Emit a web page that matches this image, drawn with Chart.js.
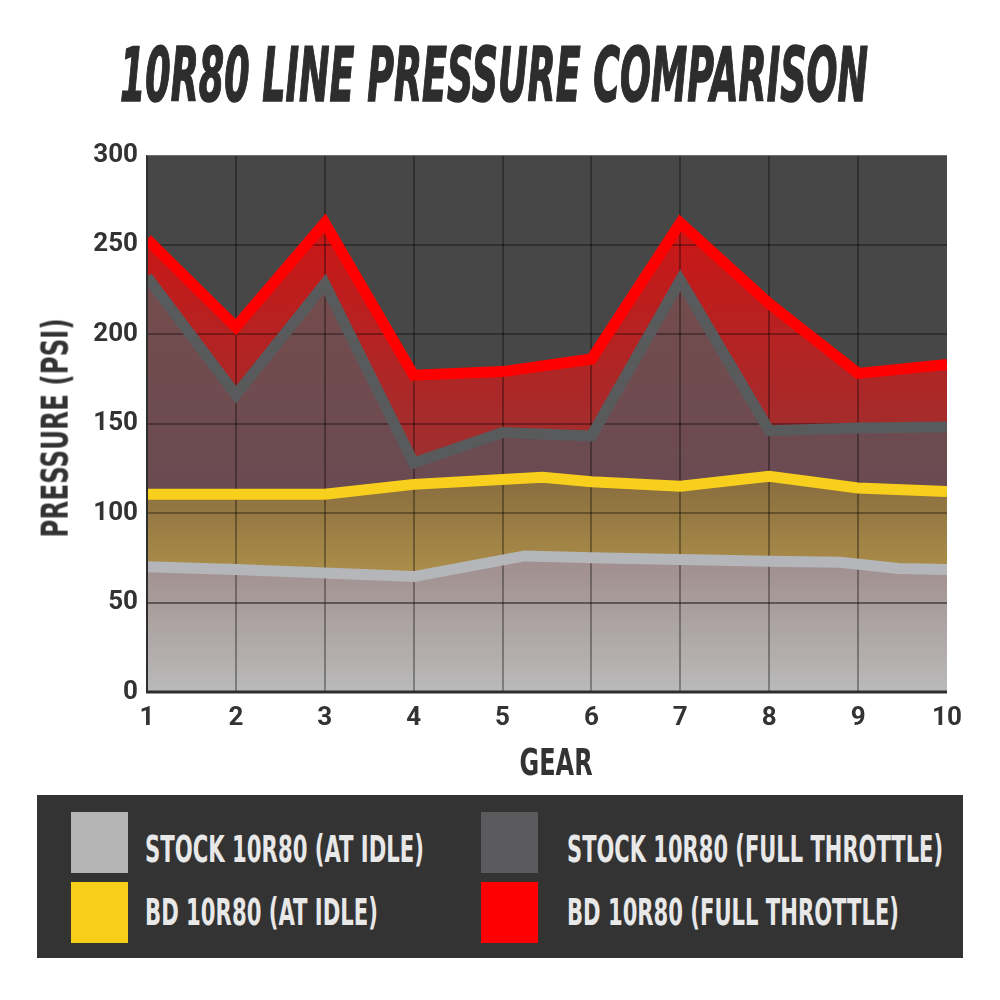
<!DOCTYPE html>
<html>
<head>
<meta charset="utf-8">
<script src="https://cdn.jsdelivr.net/npm/chart.js@4.4.1/dist/chart.umd.min.js"></script>
<style>
  html, body { margin: 0; padding: 0; background: #ffffff; }
  #wrap { position: relative; width: 1000px; height: 1000px; overflow: hidden; }
  #c { position: absolute; left: 0; top: 0; }
  .fit { position: absolute; white-space: nowrap; display: inline-block; transform-origin: 0 0; line-height: 1; }
  .cond { font-family: "Liberation Sans Narrow", "DejaVu Sans Condensed", "Liberation Sans", sans-serif; font-weight: 700; }
  #title { left: 120px; top: 38px; font-style: italic; font-size: 74px; color: #2d2d2d; -webkit-text-stroke: 1.5px #2d2d2d; }
  #legend { position: absolute; left: 37px; top: 795px; width: 926px; height: 163px; background: #333333; }
  .sw { position: absolute; width: 57px; height: 61px; }
  .lt { font-size: 37px; color: #e8e8e8; }
  .ax { position: absolute; white-space: nowrap; line-height: 1; font-size: 38px; color: #333333; transform-origin: 50% 50%; }
</style>
</head>
<body>
<div id="wrap">
  <canvas id="c" width="1000" height="1000"></canvas>
  <div id="title" class="fit cond" data-w="748">10R80 LINE PRESSURE COMPARISON</div>
  <div id="ytitle" class="ax cond" data-w="219" data-cx="54" data-cy="428" data-rot="-90">PRESSURE (PSI)</div>
  <div id="xtitle" class="ax cond" data-w="73" data-cx="555.5" data-cy="762" data-rot="0">GEAR</div>
  <div id="legend"></div>
  <div class="fit cond lt" style="left:145px;top:831px" data-w="279">STOCK 10R80 (AT IDLE)</div>
  <div class="fit cond lt" style="left:145px;top:894px" data-w="233">BD 10R80 (AT IDLE)</div>
  <div class="fit cond lt" style="left:567px;top:831px" data-w="376">STOCK 10R80 (FULL THROTTLE)</div>
  <div class="fit cond lt" style="left:567px;top:894px" data-w="332">BD 10R80 (FULL THROTTLE)</div>
</div>
<script>
// ---- data ----
const seriesNames = ['STOCK 10R80 (AT IDLE)', 'BD 10R80 (AT IDLE)', 'STOCK 10R80 (FULL THROTTLE)', 'BD 10R80 (FULL THROTTLE)'];
const stockIdleGear = [1, 2, 3, 4, 5.25, 6, 7, 8, 8.8, 9.45, 10];
const stockIdlePsi  = [70, 68.5, 66.5, 64.5, 76, 75, 74, 73, 72.5, 69, 68.5];
const bdIdleGear    = [1, 2, 3, 4, 5.45, 6, 7, 8, 9, 10];
const bdIdlePsi     = [110.5, 110.5, 110.5, 116, 120, 117.5, 115, 120.5, 114, 112];
const stockFullGear = [1, 2, 3, 4, 5, 6, 7, 8, 9, 10];
const stockFullPsi  = [232, 166, 228, 128, 145, 143, 230, 146, 147.5, 148];
const bdFullGear    = [1, 2, 3, 4, 5, 6, 7, 8, 9, 10];
const bdFullPsi     = [253, 204, 262, 177, 179, 186, 262, 217, 178, 183];
const gearTicks     = [1, 2, 3, 4, 5, 6, 7, 8, 9, 10];
const psiTicks      = [0, 50, 100, 150, 200, 250, 300];

// ---- styles ----
const lineColors = ['#b4b6b9', '#f7cf1c', '#595a5c', '#ff0000'];
const swatchColors = ['#b4b4b4', '#f7cf18', '#5b5b5d', '#ff0000'];
const fillStops = [
  [76, '#9f8d8c', 0, '#bababa'],
  [121, '#876b3e', 64, '#ad904a'],
  [232, '#744c4c', 110, '#6a4b52'],
  [265, '#cc1515', 128, '#9e3030']
];

function pts(xs, ys) { return xs.map((x, i) => ({ x: x, y: ys[i] })); }

function gradientFor(i) {
  return function (ctx) {
    const chart = ctx.chart;
    const ys = chart.scales && chart.scales.y;
    if (!chart.chartArea || !ys) return fillStops[i][1];
    const s = fillStops[i];
    const g = chart.ctx.createLinearGradient(0, ys.getPixelForValue(s[0]), 0, ys.getPixelForValue(s[2]));
    g.addColorStop(0, s[1]);
    g.addColorStop(1, s[3]);
    return g;
  };
}

const allData = [
  pts(stockIdleGear, stockIdlePsi),
  pts(bdIdleGear, bdIdlePsi),
  pts(stockFullGear, stockFullPsi),
  pts(bdFullGear, bdFullPsi)
];

const datasets = allData.map((d, i) => ({
  label: seriesNames[i],
  data: d,
  borderColor: lineColors[i],
  borderWidth: 11,
  backgroundColor: gradientFor(i),
  fill: 'origin',
  pointRadius: 0,
  pointHoverRadius: 0,
  tension: 0,
  clip: 0
}));

const plotBg = {
  id: 'plotBg',
  beforeDraw(chart) {
    const a = chart.chartArea, c = chart.ctx;
    c.save();
    c.fillStyle = '#474747';
    c.fillRect(a.left, a.top, a.right - a.left, a.bottom - a.top);
    c.restore();
  }
};

const gridOverlay = {
  id: 'gridOverlay',
  beforeDatasetsDraw(chart) {
    const a = chart.chartArea, c = chart.ctx, xs = chart.scales.x, ys = chart.scales.y;
    c.save();
    c.lineWidth = 2;
    gearTicks.forEach(g => {
      if (g === gearTicks[0] || g === gearTicks[gearTicks.length - 1]) return;
      const x = Math.round(xs.getPixelForValue(g));
      c.strokeStyle = 'rgba(0,0,0,0.32)';
      c.beginPath(); c.moveTo(x, a.top); c.lineTo(x, a.bottom); c.stroke();
    });
    psiTicks.forEach(v => {
      if (v === 0 || v === 300) return;
      const y = Math.round(ys.getPixelForValue(v));
      c.strokeStyle = v === 50 ? 'rgba(0,0,0,0.45)' : 'rgba(0,0,0,0.32)';
      c.beginPath(); c.moveTo(a.left, y); c.lineTo(a.right, y); c.stroke();
    });
    c.restore();
  },
  afterDatasetsDraw(chart) {
    const a = chart.chartArea, c = chart.ctx;
    c.save();
    c.strokeStyle = '#2e2e2e';
    c.lineWidth = 2;
    c.beginPath(); c.moveTo(a.left, a.top); c.lineTo(a.left, a.bottom + 1); c.stroke();
    c.lineWidth = 3;
    c.beginPath(); c.moveTo(a.left - 1, a.bottom); c.lineTo(a.right, a.bottom); c.stroke();
    c.strokeStyle = 'rgba(120,120,120,0.8)';
    c.lineWidth = 1;
    c.beginPath(); c.moveTo(a.left, a.top + 0.5); c.lineTo(a.right, a.top + 0.5); c.stroke();
    c.restore();
  }
};

new Chart(document.getElementById('c'), {
  type: 'line',
  data: { datasets: datasets },
  options: {
    responsive: false,
    animation: false,
    devicePixelRatio: 1,
    layout: { padding: { left: 0, top: 155, right: 53, bottom: 200 } },
    plugins: {
      legend: { display: false },
      tooltip: { enabled: false },
      filler: { drawTime: 'beforeDatasetsDraw' }
    },
    scales: {
      x: {
        type: 'linear',
        min: gearTicks[0],
        max: gearTicks[gearTicks.length - 1],
        afterFit(scale) { scale.height = 108; },
        afterBuildTicks(scale) { scale.ticks = gearTicks.map(v => ({ value: v })); },
        grid: { display: false, drawTicks: false },
        border: { display: false },
        ticks: {
          autoSkip: false,
          maxRotation: 0,
          padding: 11,
          color: '#333333',
          font: { family: 'Roboto', weight: 'bold', size: 26 }
        },
        title: { display: false, text: 'GEAR' }
      },
      y: {
        min: psiTicks[0],
        max: psiTicks[psiTicks.length - 1],
        afterFit(scale) { scale.width = 147; },
        afterBuildTicks(scale) { scale.ticks = psiTicks.map(v => ({ value: v })); },
        grid: { display: false, drawTicks: false },
        border: { display: false },
        ticks: {
          padding: 9,
          color: '#333333',
          font: { family: 'Roboto', weight: 'bold', size: 26 }
        },
        title: { display: false, text: 'PRESSURE (PSI)' }
      }
    }
  },
  plugins: [plotBg, gridOverlay]
});

// ---- HTML legend swatches ----
const legend = document.getElementById('legend');
const swPos = [[34, 17], [34, 87], [444, 17], [444, 87]];
swatchColors.forEach((col, i) => {
  const d = document.createElement('div');
  d.className = 'sw';
  d.style.left = swPos[i][0] + 'px';
  d.style.top = swPos[i][1] + 'px';
  d.style.background = col;
  legend.appendChild(d);
});

function fitAll() {
  document.querySelectorAll('.fit').forEach(el => {
    el.style.transform = 'none';
    const w = el.getBoundingClientRect().width;
    const target = parseFloat(el.dataset.w);
    if (w > 0) el.style.transform = 'scaleX(' + (target / w) + ')';
  });
  document.querySelectorAll('.ax').forEach(el => {
    el.style.transform = 'none';
    const w = el.offsetWidth, h = el.offsetHeight;
    const k = parseFloat(el.dataset.w) / w;
    el.style.left = (parseFloat(el.dataset.cx) - w / 2) + 'px';
    el.style.top = (parseFloat(el.dataset.cy) - h / 2) + 'px';
    el.style.transform = 'rotate(' + el.dataset.rot + 'deg) scaleX(' + k + ')';
  });
}
fitAll();
if (document.fonts && document.fonts.ready) document.fonts.ready.then(fitAll);
</script>
</body>
</html>
